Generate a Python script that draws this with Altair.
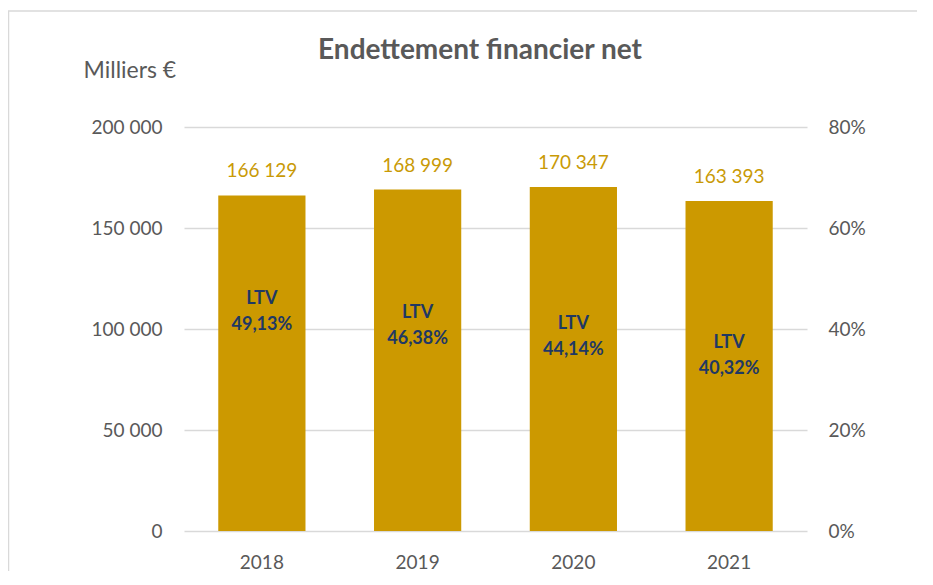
import altair as alt
import pandas as pd

years = ["2018", "2019", "2020", "2021"]
debt = [166129, 168999, 170347, 163393]
ltv = [49.13, 46.38, 44.14, 40.32]
chart_title = "Endettement financier net"

df = pd.DataFrame({
    "year": years,
    "debt": debt,
    "debt_label": [f"{v:,}".replace(",", " ") for v in debt],
    "ltv": [v / 100 for v in ltv],
    "ltv_label": [f"{v:.2f}".replace(".", ",") + "%" for v in ltv],
})

FONT = "Lato"
GOLD = "#CC9900"
GOLD_TXT = "#C99A06"
GRAY = "#595959"
NAVY = "#1F3864"

x_enc = alt.X("year:N", title=None,
              scale=alt.Scale(paddingInner=0.44, paddingOuter=0.22),
              axis=alt.Axis(labelAngle=0, labelFont=FONT, labelFontSize=19,
                            labelColor=GRAY, ticks=False, domain=False,
                            grid=False, labelPadding=22))

y_left = alt.Y("debt:Q", scale=alt.Scale(domain=[0, 200000], nice=False),
               axis=alt.Axis(values=[0, 50000, 100000, 150000, 200000],
                             labelExpr="datum.value == 0 ? '0' : format(datum.value/1000, 'd') + ' 000'",
                             labelFont=FONT, labelFontSize=19, labelColor=GRAY,
                             labelPadding=22, ticks=False, domain=False,
                             grid=True, gridColor="#D9D9D9", gridWidth=1.3,
                             title="Milliers €", titleAngle=0, titleFont=FONT,
                             titleFontSize=23, titleFontWeight="normal",
                             titleColor=GRAY, titleAlign="left",
                             titleBaseline="middle", titleX=-101, titleY=-57))

y_right = alt.Y("ltv:Q", scale=alt.Scale(domain=[0, 0.8], nice=False),
                axis=alt.Axis(orient="right", values=[0, 0.2, 0.4, 0.6, 0.8],
                              format=".0%", labelFont=FONT, labelFontSize=19,
                              labelColor=GRAY, labelPadding=21, ticks=False,
                              domain=False, grid=False, title=None))

base = alt.Chart(df)

bars = base.mark_bar(color=GOLD).encode(x=x_enc, y=y_left)

vals = base.mark_text(font=FONT, fontSize=19, color=GOLD_TXT,
                      baseline="middle", dy=-24).encode(
    x=x_enc, y=y_left, text="debt_label:N")

left = alt.layer(bars, vals)

ltv_title = base.mark_text(font=FONT, fontSize=18, fontWeight="bold",
                           color=NAVY, baseline="middle", dy=16).encode(
    x=x_enc, y=y_right, text=alt.value("LTV"))
ltv_val = base.mark_text(font=FONT, fontSize=18, fontWeight="bold",
                         color=NAVY, baseline="middle", dy=42).encode(
    x=x_enc, y=y_right, text="ltv_label:N")

right = alt.layer(ltv_title, ltv_val)

one = pd.DataFrame({"t": [chart_title]})
title_mark = alt.Chart(one).mark_text(
    font=FONT, fontSize=28, fontWeight="bold", color=GRAY,
    align="center", baseline="alphabetic").encode(
    x=alt.value(296), y=alt.value(-68), text="t:N")

frame_top = alt.Chart(one).mark_rule(
    color="#D9D9D9", strokeWidth=1.5).encode(
    x=alt.value(-176), x2=alt.value(760), y=alt.value(-116))
frame_left = alt.Chart(one).mark_rule(
    color="#D9D9D9", strokeWidth=1.5).encode(
    x=alt.value(-175.5), y=alt.value(-116), y2=alt.value(470))

chart = alt.layer(left, right, title_mark, frame_top, frame_left).resolve_scale(
    y="independent"
).properties(
    width=623, height=404,
    background="white",
    autosize=alt.AutoSizeParams(type="none"),
    padding={"left": 176, "top": 119, "right": 110, "bottom": 40},
).configure_view(
    strokeWidth=0, stroke="transparent"
).configure_axis(
    domain=False, ticks=False
)

chart.save("out.html", embed_options={"renderer": "svg", "actions": False})
